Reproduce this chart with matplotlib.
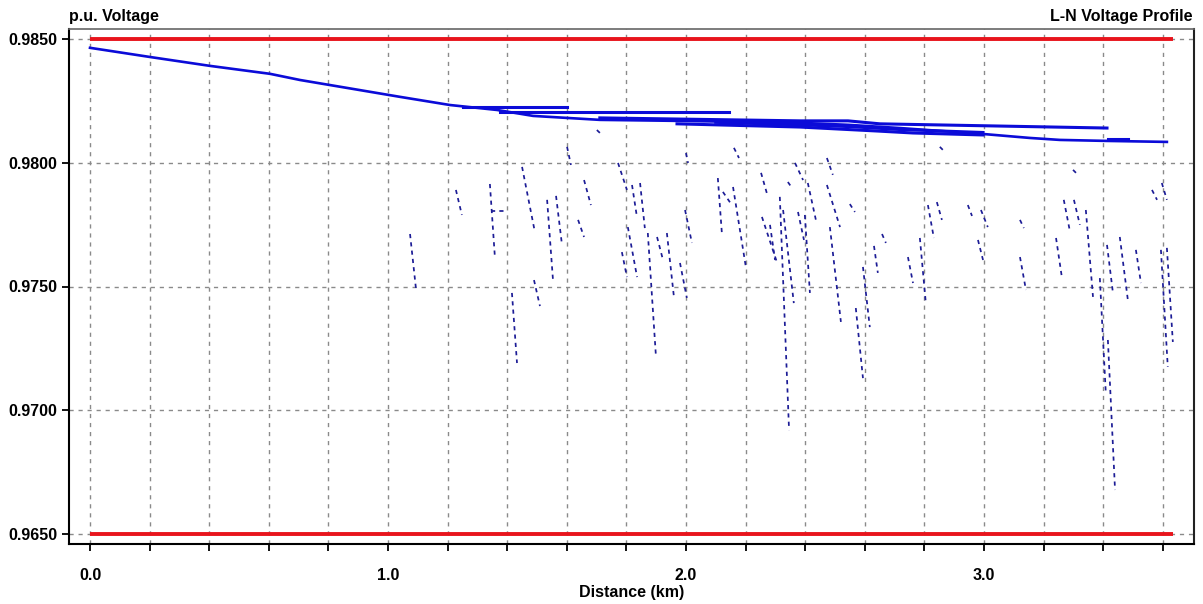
import matplotlib
matplotlib.use("Agg")
from matplotlib import pyplot as plt
from matplotlib.ticker import MultipleLocator, FuncFormatter

# feeder trunk (distance km, voltage p.u.)
trunk_km = [0.000, 0.201, 0.403, 0.604, 0.705, 1.040, 1.208, 1.366, 1.487, 1.711,
            1.970, 2.383, 2.544, 2.718, 2.997, 3.154, 3.255, 3.413, 3.614]
trunk_pu = [0.98464, 0.98427, 0.98391, 0.98359, 0.98334, 0.98266, 0.98233, 0.98213, 0.98189, 0.98173,
            0.98169, 0.98161, 0.98153, 0.98140, 0.98116, 0.98100, 0.98092, 0.98088, 0.98084]

# primary branches
branch1_km = [1.252, 1.601]
branch1_pu = [0.98225, 0.98225]
branch2_km = [1.376, 2.144]
branch2_pu = [0.98205, 0.98205]
branch3_km = [1.711, 2.383, 2.544, 2.651, 3.413]
branch3_pu = [0.98181, 0.98169, 0.98169, 0.98157, 0.98140]
branch4_km = [1.970, 2.383, 2.641, 2.762, 2.997]
branch4_pu = [0.98157, 0.98144, 0.98128, 0.98120, 0.98112]
branch5_km = [3.416, 3.483]
branch5_pu = [0.98094, 0.98094]
branch6_km = [2.100, 2.383, 2.544, 2.718, 2.997]
branch6_pu = [0.98163, 0.98153, 0.98146, 0.98134, 0.98122]

# secondaries / services : (km start, pu start, km end, pu end)
secondaries = [
  (1.074, 0.97712, 1.094, 0.97490), (1.228, 0.97890, 1.248, 0.97789),
  (1.342, 0.97914, 1.359, 0.97615), (1.346, 0.97805, 1.393, 0.97805),
  (1.450, 0.97983, 1.493, 0.97720), (1.416, 0.97474, 1.433, 0.97191),
  (1.490, 0.97526, 1.510, 0.97421), (1.534, 0.97850, 1.554, 0.97522),
  (1.564, 0.97866, 1.584, 0.97668), (1.601, 0.98064, 1.614, 0.97991),
  (1.658, 0.97930, 1.681, 0.97829), (1.638, 0.97769, 1.658, 0.97700),
  (1.772, 0.97999, 1.802, 0.97890), (1.701, 0.98132, 1.715, 0.98116),
  (1.785, 0.97639, 1.802, 0.97538), (1.805, 0.97740, 1.836, 0.97538),
  (1.819, 0.97910, 1.836, 0.97777), (1.846, 0.97918, 1.862, 0.97736),
  (1.872, 0.97716, 1.899, 0.97223), (1.903, 0.97700, 1.923, 0.97607),
  (1.936, 0.97716, 1.960, 0.97454), (1.980, 0.97595, 2.003, 0.97454),
  (1.997, 0.97809, 2.020, 0.97676), (2.000, 0.98039, 2.007, 0.97999),
  (2.107, 0.97938, 2.121, 0.97708), (2.124, 0.97882, 2.154, 0.97829),
  (2.158, 0.97902, 2.201, 0.97579), (2.161, 0.98060, 2.178, 0.98019),
  (2.252, 0.97959, 2.275, 0.97862), (2.255, 0.97781, 2.305, 0.97599),
  (2.282, 0.97749, 2.299, 0.97607), (2.315, 0.97862, 2.346, 0.96920),
  (2.326, 0.97809, 2.362, 0.97433), (2.342, 0.97922, 2.356, 0.97898),
  (2.366, 0.97999, 2.393, 0.97930), (2.376, 0.97801, 2.396, 0.97688),
  (2.399, 0.97789, 2.416, 0.97474), (2.409, 0.97918, 2.436, 0.97769),
  (2.473, 0.98019, 2.493, 0.97951), (2.473, 0.97910, 2.517, 0.97740),
  (2.483, 0.97740, 2.520, 0.97357), (2.550, 0.97833, 2.567, 0.97801),
  (2.570, 0.97413, 2.594, 0.97130), (2.594, 0.97579, 2.617, 0.97336),
  (2.631, 0.97664, 2.644, 0.97555), (2.658, 0.97712, 2.671, 0.97676),
  (2.745, 0.97619, 2.762, 0.97514), (2.785, 0.97696, 2.805, 0.97433),
  (2.812, 0.97829, 2.832, 0.97696), (2.842, 0.97841, 2.859, 0.97769),
  (2.852, 0.98064, 2.862, 0.98052), (2.946, 0.97829, 2.960, 0.97785),
  (2.990, 0.97809, 3.013, 0.97740), (2.980, 0.97688, 2.997, 0.97607),
  (3.299, 0.97971, 3.309, 0.97959), (3.121, 0.97769, 3.134, 0.97736),
  (3.121, 0.97619, 3.141, 0.97486), (3.242, 0.97696, 3.262, 0.97534),
  (3.268, 0.97850, 3.289, 0.97720), (3.302, 0.97850, 3.322, 0.97749),
  (3.342, 0.97809, 3.366, 0.97458), (3.389, 0.97534, 3.409, 0.97070),
  (3.413, 0.97668, 3.433, 0.97474), (3.416, 0.97284, 3.440, 0.96678),
  (3.456, 0.97700, 3.483, 0.97446), (3.510, 0.97648, 3.527, 0.97514),
  (3.564, 0.97890, 3.581, 0.97850), (3.597, 0.97918, 3.614, 0.97850),
  (3.594, 0.97648, 3.617, 0.97175), (3.614, 0.97656, 3.634, 0.97276),
]

# voltage limits
limit_km = [0.0, 3.634]
upper_limit = 0.9850
lower_limit = 0.9650

y_ticks = [0.9650, 0.9700, 0.9750, 0.9800, 0.9850]


def main():
  plt.rcParams['font.family'] = ['Liberation Sans', 'DejaVu Sans']
  fig = plt.figure(figsize=(12.03, 6.04), dpi=100)
  ax = fig.add_axes([69/1203, 60/604, 1125/1203, 515/604])

  # secondaries (dashed)
  for d0, v0, d1, v1 in secondaries:
    ax.plot([d0, d1], [v0, v1], color='#1c1c96', lw=1.25,
            linestyle=(0, (2.4, 2.4)), zorder=3)

  # primary lines
  ax.plot(trunk_km, trunk_pu, color='#0b0bd8', lw=1.9, zorder=4)
  for km, pu in [(branch1_km, branch1_pu), (branch2_km, branch2_pu), (branch3_km, branch3_pu),
                 (branch4_km, branch4_pu), (branch5_km, branch5_pu), (branch6_km, branch6_pu)]:
    ax.plot(km, pu, color='#0b0bd8', lw=2.2, zorder=4)

  # limits
  ax.plot(limit_km, [upper_limit, upper_limit], color='#e8141c', lw=2.8, solid_capstyle='butt', zorder=5)
  ax.plot(limit_km, [lower_limit, lower_limit], color='#e8141c', lw=2.8, solid_capstyle='butt', zorder=5)

  ax.set_xlim(-0.0705, 3.705)
  ax.set_ylim(0.96460, 0.98540)

  ax.xaxis.set_major_locator(MultipleLocator(0.2))
  ax.xaxis.set_major_formatter(FuncFormatter(
    lambda v, p: f"{v:.1f}" if abs(v - round(v)) < 1e-6 else ""))
  ax.set_yticks(y_ticks)
  ax.set_yticklabels([f"{v:.4f}" for v in y_ticks])

  ax.tick_params(axis='both', direction='out', length=5, width=1.3, labelsize=11.5, colors='black')
  ax.tick_params(axis='x', pad=12)
  ax.tick_params(axis='y', pad=3.5)
  for lab in ax.get_xticklabels() + ax.get_yticklabels():
    lab.set_fontweight('bold')

  ax.grid(True, color='#8a8a8a', linestyle=(0, (3, 3.5)), linewidth=1.0)
  ax.set_axisbelow(True)

  ax.spines['left'].set_linewidth(1.5)
  ax.spines['bottom'].set_linewidth(1.5)
  ax.spines['top'].set_color('#666666')
  ax.spines['top'].set_linewidth(1.2)
  ax.spines['right'].set_color('#222222')
  ax.spines['right'].set_linewidth(1.5)

  ax.set_xlabel('Distance (km)', fontsize=11.5, fontweight='bold', labelpad=2)
  fig.text(69/1203, 1 - 17/604, 'p.u. Voltage', ha='left', va='center',
           fontsize=11.5, fontweight='bold')
  fig.text(1193/1203, 1 - 17/604, 'L-N Voltage Profile', ha='right', va='center',
           fontsize=11.5, fontweight='bold')

  fig.savefig('out.png', dpi=100)


if __name__ == "__main__":
  main()
